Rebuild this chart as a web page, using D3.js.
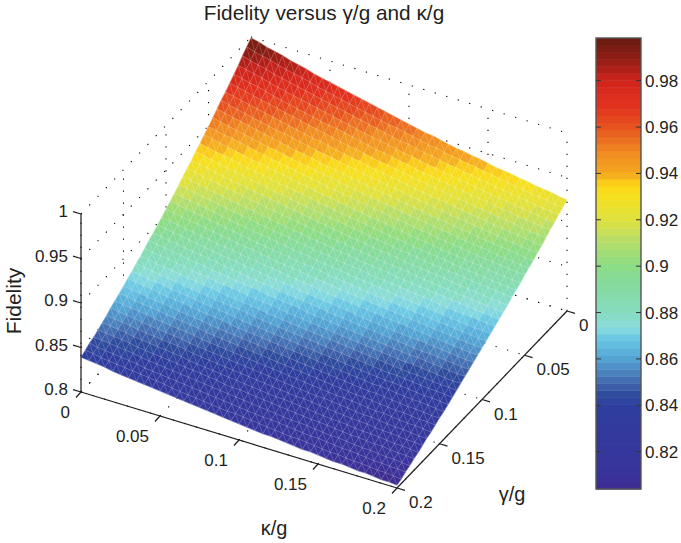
<!DOCTYPE html>
<html>
<head>
<meta charset="utf-8">
<title>Fidelity versus gamma/g and kappa/g</title>
<script src="https://cdn.jsdelivr.net/npm/d3@7/dist/d3.min.js"></script>
<style>
  html, body { margin: 0; padding: 0; background: #fff; }
  text { font-family: "Liberation Sans", Arial, sans-serif; fill: #231f20; }
</style>
</head>
<body>
<svg id="chart" width="681" height="543"></svg>
<script>
/* ticks */
const kappaTicks = [0, 0.05, 0.1, 0.15, 0.2];
const kappaLabels = ["0", "0.05", "0.1", "0.15", "0.2"];
const gammaTicks = [0, 0.05, 0.1, 0.15, 0.2];
const gammaLabels = ["0", "0.05", "0.1", "0.15", "0.2"];
const fidelityTicks = [0.8, 0.85, 0.9, 0.95, 1];
const fidelityLabels = ["0.8", "0.85", "0.9", "0.95", "1"];
const barTicks = [0.82, 0.84, 0.86, 0.88, 0.9, 0.92, 0.94, 0.96, 0.98];
const barLabels = ["0.82", "0.84", "0.86", "0.88", "0.9", "0.92", "0.94", "0.96", "0.98"];

/* colour map */
const colorValues = [0.805, 0.8093, 0.82, 0.8306, 0.84, 0.845, 0.8486, 0.8537, 0.86, 0.8648, 0.8704, 0.8733, 0.88, 0.894, 0.9015, 0.9106, 0.92, 0.9307, 0.935, 0.94, 0.9494, 0.96, 0.9695, 0.98, 0.989, 0.9975];
const colorHexes = ["#3d2b90", "#3a339a", "#36379d", "#333a9e", "#2f3f9e", "#2f4b9d", "#3f62aa", "#4a80bd", "#53a2d3", "#5fb8df", "#6ecde4", "#8cdcdc", "#84dcc0", "#86db9a", "#8fdc80", "#b5de6a", "#dfe13f", "#f6e01e", "#fcd516", "#f4a81e", "#f08a22", "#e7531f", "#e2321f", "#d0241c", "#951d14", "#6b1c12"];
const barMin = 0.8039;
const barMax = 0.9984;
const levelCount = 64;

/* fidelity x 1000: one row per gamma/g step (0 to 0.2 in 0.005), one column per kappa/g step */
const fidelityRows = [
[999,997,994,992,990,987,985,983,980,978,976,974,972,970,968,966,964,962,960,958,956,954,952,951,949,947,945,944,942,941,939,937,936,935,933,932,930,929,928,926,925],
[994,991,989,987,984,982,980,978,976,973,971,969,967,965,963,961,959,957,955,954,952,950,948,946,945,943,941,940,938,937,935,934,932,931,929,928,926,925,924,922,921],
[989,986,984,982,979,977,975,973,971,969,967,965,963,961,959,957,955,953,951,949,947,946,944,942,941,939,937,936,934,933,931,930,928,927,925,924,923,921,920,919,918],
[983,981,979,977,974,972,970,968,966,964,962,960,958,956,954,952,950,948,947,945,943,941,940,938,936,935,933,932,930,929,927,926,924,923,922,920,919,918,916,915,914],
[978,976,974,972,970,967,965,963,961,959,957,955,953,952,950,948,946,944,942,941,939,937,936,934,932,931,929,928,926,925,923,922,921,919,918,917,915,914,913,912,911],
[973,971,969,967,965,963,961,959,957,955,953,951,949,947,945,943,942,940,938,936,935,933,932,930,928,927,925,924,922,921,920,918,917,916,914,913,912,910,909,908,907],
[968,966,964,962,960,958,956,954,952,950,948,946,945,943,941,939,937,936,934,932,931,929,928,926,924,923,921,920,919,917,916,914,913,912,910,909,908,907,906,904,903],
[964,961,959,957,955,953,951,949,948,946,944,942,940,938,937,935,933,932,930,928,927,925,924,922,920,919,918,916,915,913,912,911,909,908,907,906,904,903,902,901,900],
[959,957,955,953,951,949,947,945,943,941,939,938,936,934,932,931,929,927,926,924,923,921,920,918,917,915,914,912,911,910,908,907,906,904,903,902,901,900,899,897,896],
[954,952,950,948,946,944,942,940,939,937,935,933,932,930,928,927,925,923,922,920,919,917,916,914,913,911,910,909,907,906,905,903,902,901,900,899,897,896,895,894,893],
[949,947,945,944,942,940,938,936,934,933,931,929,927,926,924,922,921,919,918,916,915,913,912,910,909,908,906,905,904,902,901,900,899,897,896,895,894,893,892,891,890],
[945,943,941,939,937,935,933,932,930,928,927,925,923,922,920,918,917,915,914,912,911,909,908,907,905,904,902,901,900,899,897,896,895,894,893,892,890,889,888,887,886],
[940,938,936,935,933,931,929,927,926,924,922,921,919,918,916,914,913,911,910,908,907,906,904,903,901,900,899,897,896,895,894,893,891,890,889,888,887,886,885,884,883],
[936,934,932,930,928,927,925,923,922,920,918,917,915,913,912,910,909,907,906,905,903,902,900,899,898,896,895,894,893,891,890,889,888,887,886,885,884,883,882,881,880],
[931,929,928,926,924,922,921,919,917,916,914,913,911,910,908,907,905,904,902,901,899,898,897,895,894,893,892,890,889,888,887,886,885,883,882,881,880,879,878,877,876],
[927,925,923,922,920,918,917,915,913,912,910,909,907,906,904,903,901,900,898,897,896,894,893,892,890,889,888,887,886,884,883,882,881,880,879,878,877,876,875,874,873],
[923,921,919,917,916,914,912,911,909,908,906,905,903,902,900,899,897,896,895,893,892,891,889,888,887,886,885,883,882,881,880,879,878,877,876,875,874,873,872,871,870],
[918,917,915,913,912,910,908,907,905,904,902,901,899,898,897,895,894,892,891,890,888,887,886,885,883,882,881,880,879,878,877,876,875,873,872,871,870,870,869,868,867],
[914,912,911,909,908,906,904,903,901,900,898,897,896,894,893,891,890,889,887,886,885,884,882,881,880,879,878,877,875,874,873,872,871,870,869,868,867,866,865,865,864],
[910,908,907,905,904,902,901,899,898,896,895,893,892,890,889,888,886,885,884,883,881,880,879,878,877,875,874,873,872,871,870,869,868,867,866,865,864,863,862,861,861],
[906,904,903,901,900,898,897,895,894,892,891,890,888,887,885,884,883,882,880,879,878,877,875,874,873,872,871,870,869,868,867,866,865,864,863,862,861,860,859,858,858],
[902,900,899,897,896,894,893,891,890,889,887,886,885,883,882,881,879,878,877,876,874,873,872,871,870,869,868,867,866,865,864,863,862,861,860,859,858,857,856,855,855],
[898,897,895,894,892,891,889,888,886,885,884,882,881,880,878,877,876,875,873,872,871,870,869,868,867,865,864,863,862,861,860,859,858,858,857,856,855,854,853,852,852],
[894,893,891,890,888,887,886,884,883,881,880,879,877,876,875,874,872,871,870,869,868,867,865,864,863,862,861,860,859,858,857,856,855,854,853,853,852,851,850,849,849],
[891,889,888,886,885,883,882,881,879,878,877,875,874,873,872,870,869,868,867,866,864,863,862,861,860,859,858,857,856,855,854,853,852,851,851,850,849,848,847,846,846],
[887,885,884,883,881,880,878,877,876,874,873,872,871,869,868,867,866,865,863,862,861,860,859,858,857,856,855,854,853,852,851,850,849,848,848,847,846,845,844,843,843],
[883,882,880,879,878,876,875,874,872,871,870,868,867,866,865,864,862,861,860,859,858,857,856,855,854,853,852,851,850,849,848,847,846,845,844,844,843,842,841,841,840],
[880,878,877,875,874,873,871,870,869,868,866,865,864,863,862,860,859,858,857,856,855,854,853,852,851,850,849,848,847,846,845,844,843,843,842,841,840,839,839,838,837],
[876,875,873,872,871,869,868,867,866,864,863,862,861,860,858,857,856,855,854,853,852,851,850,849,848,847,846,845,844,843,842,841,840,840,839,838,837,836,836,835,834],
[873,871,870,869,867,866,865,864,862,861,860,859,858,856,855,854,853,852,851,850,849,848,847,846,845,844,843,842,841,840,839,838,838,837,836,835,834,834,833,832,831],
[869,868,867,865,864,863,862,860,859,858,857,855,854,853,852,851,850,849,848,847,846,845,844,843,842,841,840,839,838,837,836,835,835,834,833,832,831,831,830,829,829],
[866,865,863,862,861,860,858,857,856,855,854,852,851,850,849,848,847,846,845,844,843,842,841,840,839,838,837,836,835,834,833,833,832,831,830,829,829,828,827,827,826],
[863,861,860,859,858,856,855,854,853,852,851,849,848,847,846,845,844,843,842,841,840,839,838,837,836,835,834,833,832,832,831,830,829,828,828,827,826,825,825,824,823],
[860,858,857,856,854,853,852,851,850,849,847,846,845,844,843,842,841,840,839,838,837,836,835,834,833,832,831,831,830,829,828,827,826,826,825,824,823,823,822,821,821],
[856,855,854,853,851,850,849,848,847,846,845,843,842,841,840,839,838,837,836,835,834,833,832,831,830,830,829,828,827,826,825,824,824,823,822,821,821,820,819,819,818],
[853,852,851,850,848,847,846,845,844,843,842,840,839,838,837,836,835,834,833,832,831,830,829,829,828,827,826,825,824,823,823,822,821,820,820,819,818,817,817,816,815],
[850,849,848,847,846,844,843,842,841,840,839,838,837,836,835,834,832,831,831,830,829,828,827,826,825,824,823,822,822,821,820,819,818,818,817,816,816,815,814,814,813],
[847,846,845,844,843,842,840,839,838,837,836,835,834,833,832,831,830,829,828,827,826,825,824,823,822,821,821,820,819,818,817,817,816,815,814,814,813,812,812,811,810],
[845,843,842,841,840,839,838,836,835,834,833,832,831,830,829,828,827,826,825,824,823,822,821,821,820,819,818,817,816,816,815,814,813,813,812,811,810,810,809,809,808],
[842,841,839,838,837,836,835,834,833,832,831,829,828,827,826,825,824,823,822,822,821,820,819,818,817,816,815,815,814,813,812,811,811,810,809,809,808,807,807,806,805],
[839,838,837,836,834,833,832,831,830,829,828,827,826,825,824,823,822,821,820,819,818,817,816,815,815,814,813,812,811,811,810,809,808,808,807,806,806,805,804,804,803]
];

const svg = d3.select("#chart");

/* the 3d box is a plain linear projection, these scales give the pixel shift of each axis */
const originX = 81;
const originY = 392;
const kappaDx = d3.scaleLinear().domain([0, 0.2]).range([0, 316]);
const kappaDy = d3.scaleLinear().domain([0, 0.2]).range([0, 96]);
const gammaDx = d3.scaleLinear().domain([0.2, 0]).range([0, 170]);
const gammaDy = d3.scaleLinear().domain([0.2, 0]).range([0, -177]);
const fidelityDy = d3.scaleLinear().domain([0.8, 1]).range([0, -178]);

function project(k, g, f) {
  return [originX + kappaDx(k) + gammaDx(g), originY + kappaDy(k) + gammaDy(g) + fidelityDy(f)];
}

const line = d3.line();

const ramp = d3.scaleLinear().domain(colorValues).range(colorHexes).clamp(true);
const levelWidth = (barMax - barMin) / levelCount;
const levelColor = d3.scaleQuantize()
  .domain([barMin, barMax])
  .range(d3.range(levelCount).map(i => ramp(barMin + (i + 0.5) * levelWidth)));

/* dotted grid on the walls and floor, goes under the surface */
const gridSegments = [];
fidelityTicks.forEach(f => {
  gridSegments.push([project(0, 0.2, f), project(0, 0, f)]);
  gridSegments.push([project(0, 0, f), project(0.2, 0, f)]);
});
gammaTicks.forEach(g => {
  gridSegments.push([project(0, g, 0.8), project(0, g, 1)]);
  gridSegments.push([project(0, g, 0.8), project(0.2, g, 0.8)]);
});
kappaTicks.forEach(k => {
  gridSegments.push([project(k, 0, 0.8), project(k, 0, 1)]);
  gridSegments.push([project(k, 0.2, 0.8), project(k, 0, 0.8)]);
});

svg.append("g")
  .selectAll("path")
  .data(gridSegments)
  .enter().append("path")
  .attr("d", line)
  .attr("fill", "none")
  .attr("stroke", "#000")
  .attr("stroke-width", 1.1)
  .attr("stroke-dasharray", "1.2 10.8");

/* surface */
const nSteps = fidelityRows.length - 1;
const kappaValue = d3.scaleLinear().domain([0, nSteps]).range([0, 0.2]);
const gammaValue = d3.scaleLinear().domain([0, nSteps]).range([0, 0.2]);
const vertex = (i, j) => project(kappaValue(i), gammaValue(j), fidelityRows[j][i] / 1000);

const cells = [];
d3.range(nSteps).forEach(j => {
  d3.range(nSteps).forEach(i => {
    cells.push({
      pts: [vertex(i, j), vertex(i + 1, j), vertex(i + 1, j + 1), vertex(i, j + 1)],
      val: (fidelityRows[j][i] + fidelityRows[j][i + 1] + fidelityRows[j + 1][i] + fidelityRows[j + 1][i + 1]) / 4000
    });
  });
});

svg.append("g")
  .selectAll("path")
  .data(cells)
  .enter().append("path")
  .attr("d", d => line(d.pts) + "Z")
  .attr("fill", d => levelColor(d.val))
  .attr("stroke", d => levelColor(d.val))
  .attr("stroke-width", 0.5);

/* pale triangle mesh on top */
const meshAlong = d3.path();
const meshAcross = d3.path();
d3.range(nSteps + 1).forEach(j => {
  d3.range(nSteps).forEach(i => {
    let a = vertex(i, j), b = vertex(i + 1, j);
    meshAlong.moveTo(a[0], a[1]);
    meshAlong.lineTo(b[0], b[1]);
  });
});
d3.range(nSteps).forEach(j => {
  d3.range(nSteps + 1).forEach(i => {
    let a = vertex(i, j), b = vertex(i, j + 1);
    meshAcross.moveTo(a[0], a[1]);
    meshAcross.lineTo(b[0], b[1]);
    if (i < nSteps) {
      let c = vertex(i + 1, j + 1);
      meshAcross.moveTo(a[0], a[1]);
      meshAcross.lineTo(c[0], c[1]);
    }
  });
});
svg.append("path")
  .attr("d", meshAlong.toString())
  .attr("fill", "none")
  .attr("stroke", "#fff")
  .attr("stroke-opacity", 0.26)
  .attr("stroke-width", 0.7);
svg.append("path")
  .attr("d", meshAcross.toString())
  .attr("fill", "none")
  .attr("stroke", "#fff")
  .attr("stroke-opacity", 0.26)
  .attr("stroke-width", 0.7);

/* axes */
const axes = svg.append("g").attr("stroke", "#231f20").attr("stroke-width", 1.25).attr("fill", "none");
axes.append("path").attr("d", line([project(0, 0.2, 0.8), project(0, 0.2, 1)]));
axes.append("path").attr("d", line([project(0, 0.2, 0.8), project(0.2, 0.2, 0.8)]));
axes.append("path").attr("d", line([project(0.2, 0.2, 0.8), project(0.2, 0, 0.8)]));

const labels = svg.append("g").attr("font-size", 17);

fidelityTicks.forEach((f, n) => {
  let p = project(0, 0.2, f);
  axes.append("path").attr("d", line([p, [p[0] - 8, p[1] - 2.4]]));
  labels.append("text").attr("x", 68).attr("y", p[1] + 3).attr("text-anchor", "end").text(fidelityLabels[n]);
});
kappaTicks.forEach((k, n) => {
  let p = project(k, 0.2, 0.8);
  axes.append("path").attr("d", line([p, [p[0] - 5, p[1] + 5.5]]));
  labels.append("text").attr("x", p[0] - 11).attr("y", p[1] + 26).attr("text-anchor", "end").text(kappaLabels[n]);
});
gammaTicks.forEach((g, n) => {
  let p = project(0.2, g, 0.8);
  axes.append("path").attr("d", line([p, [p[0] + 8, p[1] + 2.4]]));
  labels.append("text").attr("x", p[0] + 12).attr("y", p[1] + 20).text(gammaLabels[n]);
});

/* titles */
svg.append("text").attr("x", 324).attr("y", 20).attr("text-anchor", "middle").attr("font-size", 20.8).text("Fidelity versus γ/g and κ/g");
svg.append("text").attr("x", 274).attr("y", 535).attr("text-anchor", "middle").attr("font-size", 20).text("κ/g");
svg.append("text").attr("x", 512).attr("y", 501).attr("text-anchor", "middle").attr("font-size", 20).text("γ/g");
svg.append("text").attr("transform", "translate(21,301) rotate(-90)").attr("text-anchor", "middle").attr("font-size", 21).text("Fidelity");

/* colour bar */
const barLeft = 596;
const barRight = 641;
const barY = d3.scaleLinear().domain([barMin, barMax]).range([489, 38]);

svg.append("g")
  .selectAll("rect")
  .data(d3.range(levelCount))
  .enter().append("rect")
  .attr("x", barLeft)
  .attr("width", barRight - barLeft)
  .attr("y", i => barY(barMin + (i + 1) * levelWidth))
  .attr("height", i => barY(barMin + i * levelWidth) - barY(barMin + (i + 1) * levelWidth) + 0.5)
  .attr("fill", i => levelColor(barMin + (i + 0.5) * levelWidth));

svg.append("rect")
  .attr("x", barLeft)
  .attr("y", barY(barMax))
  .attr("width", barRight - barLeft)
  .attr("height", barY(barMin) - barY(barMax))
  .attr("fill", "none")
  .attr("stroke", "#555")
  .attr("stroke-width", 1.4);

barTicks.forEach((v, n) => {
  let y = barY(v);
  svg.append("path").attr("d", line([[barLeft, y], [barLeft + 5, y]])).attr("stroke", "#333");
  svg.append("path").attr("d", line([[barRight - 5, y], [barRight, y]])).attr("stroke", "#333");
  labels.append("text").attr("x", 645).attr("y", y + 6).text(barLabels[n]);
});
</script>
</body>
</html>
